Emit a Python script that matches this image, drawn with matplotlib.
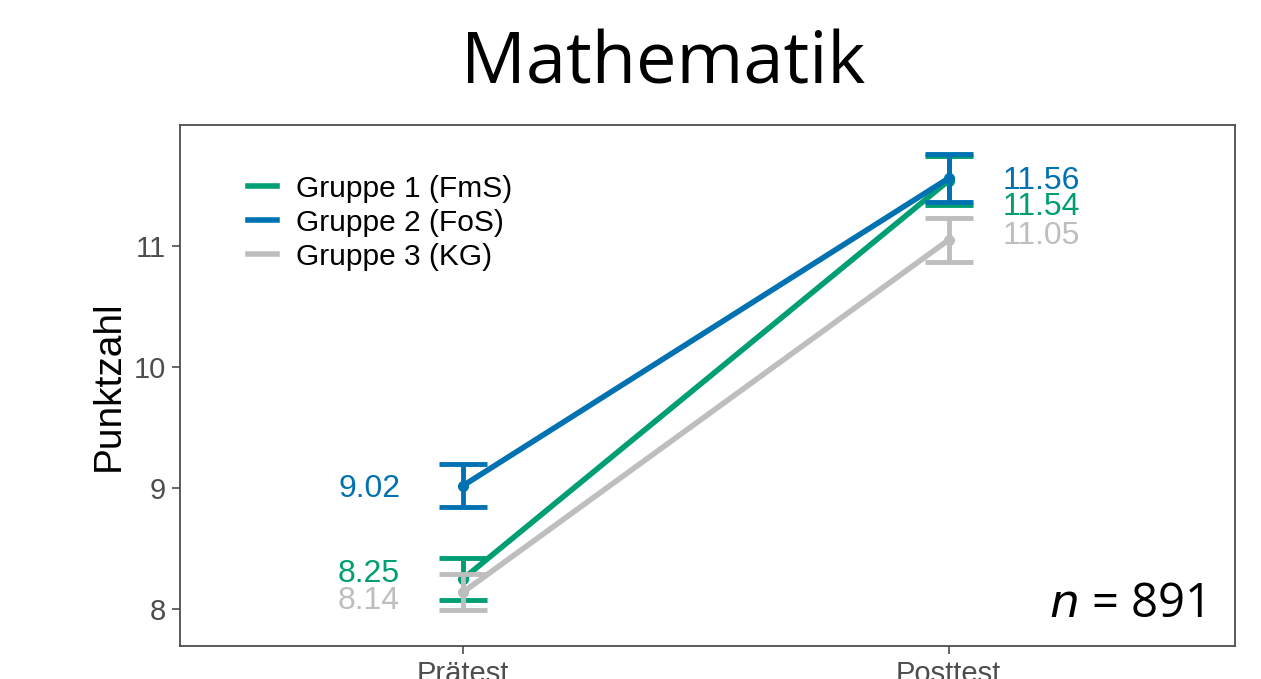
import matplotlib
matplotlib.use("Agg")
import matplotlib.pyplot as plt
from matplotlib.lines import Line2D

# ---- data ----
times = ["Prätest", "Posttest"]
groups = ["Gruppe 1 (FmS)", "Gruppe 2 (FoS)", "Gruppe 3 (KG)"]
means = {
    "Gruppe 1 (FmS)": [8.25, 11.54],
    "Gruppe 2 (FoS)": [9.02, 11.56],
    "Gruppe 3 (KG)": [8.14, 11.05],
}
errors = {
    "Gruppe 1 (FmS)": [0.175, 0.20],
    "Gruppe 2 (FoS)": [0.18, 0.20],
    "Gruppe 3 (KG)": [0.145, 0.18],
}
yticks = [8, 9, 10, 11]
n_total = 891

# ---- style ----
colors = {"Gruppe 1 (FmS)": "#009E73", "Gruppe 2 (FoS)": "#0072B2", "Gruppe 3 (KG)": "#BEBEBE"}
zorders = {"Gruppe 1 (FmS)": 3, "Gruppe 2 (FoS)": 5, "Gruppe 3 (KG)": 4}
label_offsets = {  # vertical nudges of value labels (pre, post)
    "Gruppe 1 (FmS)": [0.04, -0.22],
    "Gruppe 2 (FoS)": [-0.025, -0.02],
    "Gruppe 3 (KG)": [-0.07, 0.03],
}

fig = plt.figure(figsize=(12.61, 6.79), dpi=100)
ax = fig.add_axes([180 / 1261, 1 - 646 / 679, (1235 - 180) / 1261, (646 - 125) / 679])

x = [1, 2]
for g in groups:
    c = colors[g]
    z = zorders[g]
    ax.errorbar(x, means[g], yerr=errors[g], color=c, lw=4, elinewidth=3.5,
                capsize=17, capthick=3.5, marker="o", ms=7, zorder=z)
    for i, (xi, m) in enumerate(zip(x, means[g])):
        ypos = m + label_offsets[g][i]
        if i == 0:
            ax.text(xi - 0.13, ypos, f"{m:.2f}", color=c, fontsize=23,
                    ha="right", va="center", family="Liberation Sans")
        else:
            ax.text(xi + 0.111, ypos, f"{m:.2f}", color=c, fontsize=23,
                    ha="left", va="center", family="Liberation Sans")

ax.set_xlim(0.4165, 2.59)
ax.set_ylim(7.694, 12.0)
ax.set_xticks(x)
ax.set_xticklabels(times)
ax.set_yticks(yticks)
ax.tick_params(axis="both", colors="#4d4d4d", labelsize=21, length=6, width=1.2,
               labelcolor="#4d4d4d", pad=4)
for lab in ax.get_xticklabels() + ax.get_yticklabels():
    lab.set_family("Liberation Sans")
for s in ax.spines.values():
    s.set_color("#4d4d4d")
    s.set_linewidth(1.3)

ax.set_ylabel("Punktzahl", fontsize=28, family="Liberation Sans")
ax.yaxis.set_label_coords(-0.05, 0.5)

handles = [Line2D([0], [0], color=colors[g], lw=4) for g in groups]
leg = ax.legend(handles, groups, loc="upper left", bbox_to_anchor=(0.042, 0.95),
                frameon=False, prop={"family": "Liberation Sans", "size": 21.5},
                handlelength=0.95, handletextpad=0.65, labelspacing=0.2,
                borderpad=0.3)

ax.text(0.97, 0.08, r"$\it{n}$" + f" = {n_total}", transform=ax.transAxes,
        ha="right", va="center", fontsize=34, family="Open Sans")

fig.text(663 / 1261, 1 - 65 / 679, "Mathematik", ha="center", va="center",
         fontsize=52, family="Open Sans")

fig.savefig("out.png", dpi=100)
